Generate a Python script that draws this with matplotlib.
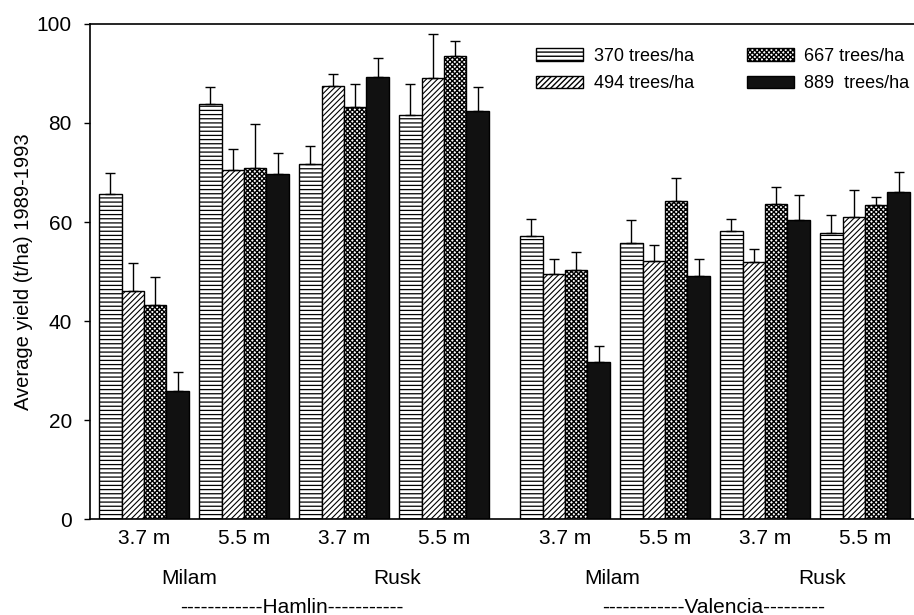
import numpy as np
import matplotlib
matplotlib.use("Agg")
import matplotlib.pyplot as plt

plt.rcParams['font.family'] = ['Liberation Sans', 'DejaVu Sans']

# Average yield (t/ha) per planting density, 8 groups:
# Hamlin Milam 3.7/5.5, Hamlin Rusk 3.7/5.5, Valencia Milam 3.7/5.5, Valencia Rusk 3.7/5.5
spacing_labels = ['3.7 m', '5.5 m', '3.7 m', '5.5 m', '3.7 m', '5.5 m', '3.7 m', '5.5 m']
site_labels = ['Milam', 'Rusk', 'Milam', 'Rusk']
cultivar_labels = ['------------Hamlin-----------', '------------Valencia---------']
density_labels = ['370 trees/ha', '494 trees/ha', '667 trees/ha', '889  trees/ha']

y370 = [65.7, 83.9, 71.8, 81.6, 57.2, 55.8, 58.1, 57.8]
y494 = [46.0, 70.6, 87.4, 89.1, 49.5, 52.2, 52.0, 61.0]
y667 = [43.2, 70.9, 83.2, 93.6, 50.3, 64.2, 63.7, 63.4]
y889 = [25.8, 69.6, 89.2, 82.5, 31.8, 49.0, 60.5, 66.1]

e370 = [4.3, 3.4, 3.5, 6.3, 3.5, 4.6, 2.6, 3.6]
e494 = [5.8, 4.2, 2.5, 8.9, 3.1, 3.1, 2.6, 5.4]
e667 = [5.6, 8.8, 4.7, 2.9, 3.7, 4.6, 3.4, 1.7]
e889 = [4.0, 4.4, 3.9, 4.8, 3.1, 3.5, 4.9, 4.0]

# group centres (extra gap between the two cultivars)
x = np.array([0, 1, 2, 3, 4.21, 5.21, 6.21, 7.21])
w = 0.224

fig = plt.figure(figsize=(9.14, 6.15), dpi=100)
ax = fig.add_axes([0.0985, 0.156, 0.9015, 0.805])

series = [y370, y494, y667, y889]
errs = [e370, e494, e667, e889]
styles = [
    dict(color='white', hatch='----', hlw=0.9),
    dict(color='white', hatch='//////', hlw=0.8),
    dict(color='white', hatch='xxxxxxx', hlw=1.0),
    dict(color='#111111', hatch=None, hlw=0.9),
]

for i, (vals, err, st) in enumerate(zip(series, errs, styles)):
    xs = x + (i - 1.5) * w
    with plt.rc_context({'hatch.linewidth': st['hlw'], 'hatch.color': 'black'}):
        ax.bar(xs, vals, w, color=st['color'], edgecolor='black', linewidth=1.0,
               hatch=st['hatch'], label=density_labels[i], zorder=2)
    ax.errorbar(xs, vals, yerr=[np.zeros(len(err)), err], fmt='none',
                ecolor='black', elinewidth=1.0, capsize=3.5, capthick=1.0, zorder=3)

ax.set_xlim(-0.54, 7.70)
ax.set_ylim(0, 100)
ax.set_yticks([0, 20, 40, 60, 80, 100])
ax.tick_params(axis='y', direction='out', length=4.5, width=1, labelsize=15, pad=8.5)
ax.set_xticks(x)
ax.set_xticklabels(spacing_labels)
ax.tick_params(axis='x', length=0, labelsize=15, pad=7)
ax.set_ylabel('Average yield (t/ha) 1989-1993', fontsize=14.5, labelpad=3)

ax.spines['right'].set_visible(False)
for s in ['left', 'top', 'bottom']:
    ax.spines[s].set_linewidth(1.2)

tr = ax.get_xaxis_transform()
site_x = [0.45, 2.53, 4.68, 6.78]
for sx, lab in zip(site_x, site_labels):
    ax.text(sx, -0.121, lab, transform=tr, ha='center', va='center', fontsize=15)
cult_x = [1.475, 5.70]
for cx, lab in zip(cult_x, cultivar_labels):
    ax.text(cx, -0.178, lab, transform=tr, ha='center', va='center', fontsize=15)

ax.legend(loc='upper left', bbox_to_anchor=(0.522, 0.985), ncol=2, frameon=False,
          fontsize=13, handlelength=2.6, handleheight=0.7, handletextpad=0.6,
          columnspacing=2.9, labelspacing=0.6)

fig.savefig('out.png', dpi=100)
